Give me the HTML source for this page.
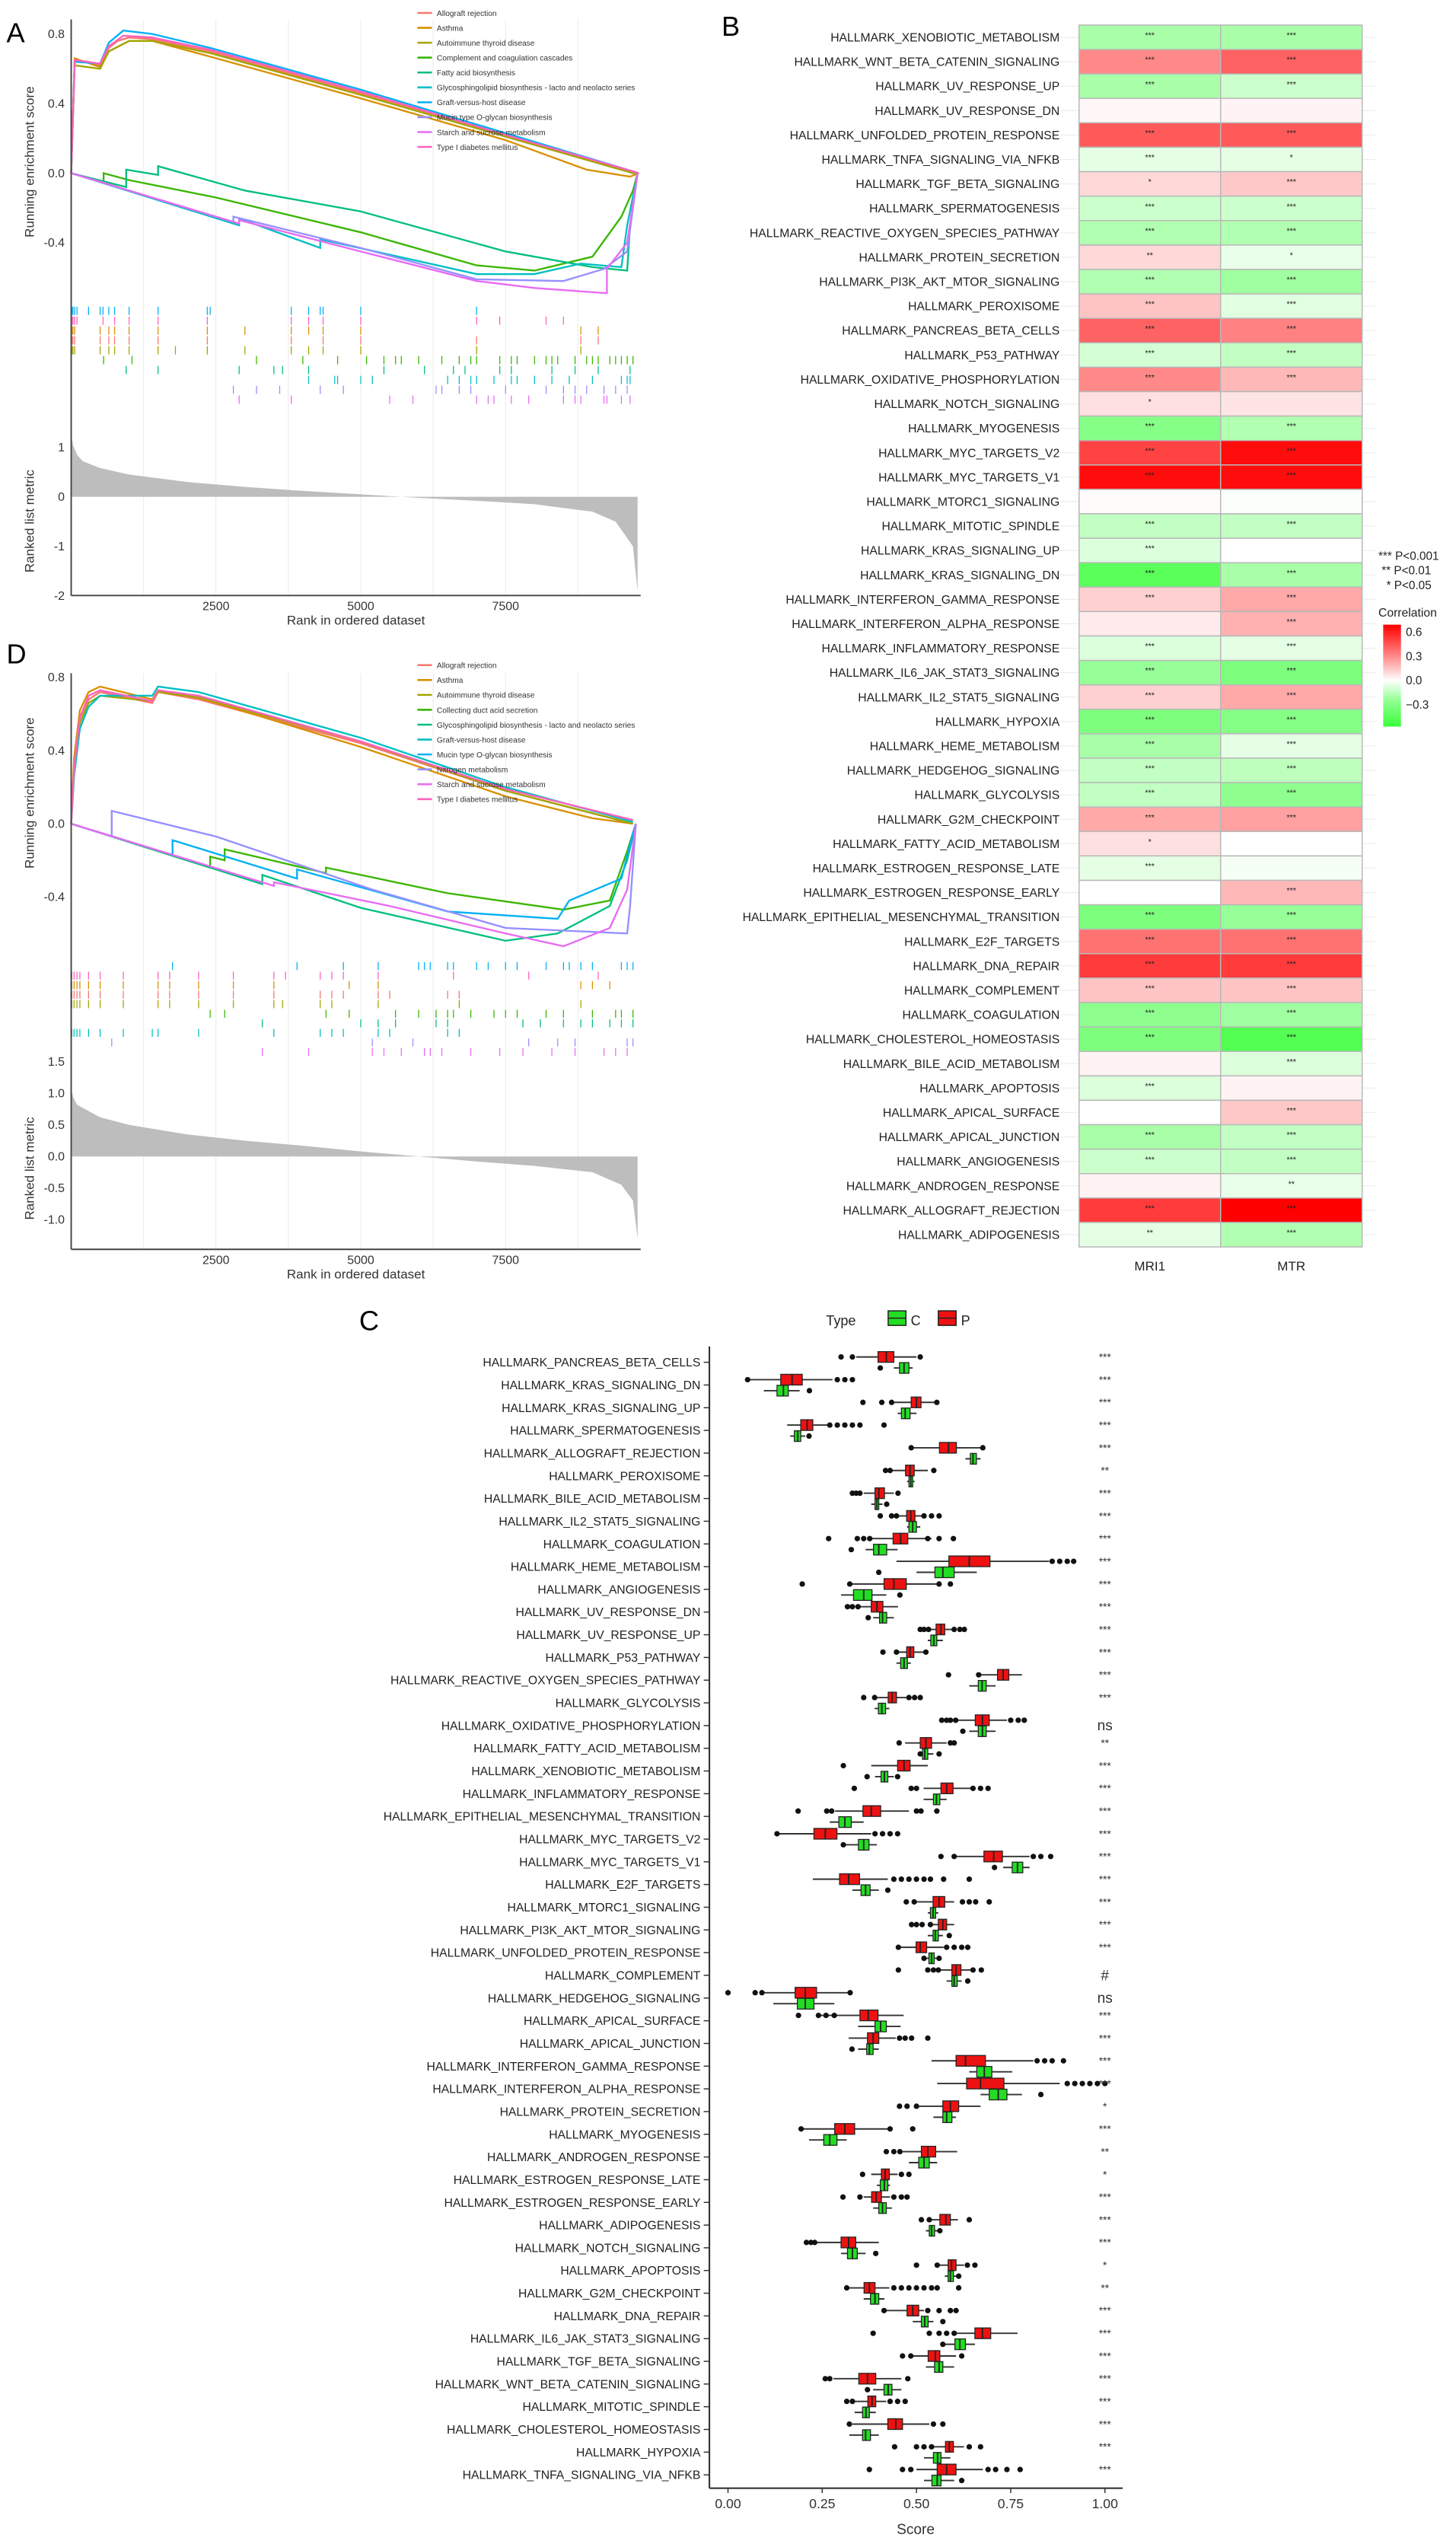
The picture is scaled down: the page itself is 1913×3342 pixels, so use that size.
<!DOCTYPE html>
<html><head><meta charset="utf-8"><style>
html,body{margin:0;padding:0;background:#fff;}
svg{display:block;font-family:"Liberation Sans",Arial,sans-serif;}
</style></head><body>
<svg id="fig" xmlns="http://www.w3.org/2000/svg" width="1913" height="3342" viewBox="0 0 900 1572" preserveAspectRatio="none">
<g id="pA"></g>
<g id="pD"></g>
<g id="pB"></g>
<g id="pC"></g>
</svg>
<script>
// ---------- Panel A / D data ----------
const aNames=["Allograft rejection","Asthma","Autoimmune thyroid disease","Complement and coagulation cascades","Fatty acid biosynthesis","Glycosphingolipid biosynthesis - lacto and neolacto series","Graft-versus-host disease","Mucin type O-glycan biosynthesis","Starch and sucrose metabolism","Type I diabetes mellitus"];
const dNames=["Allograft rejection","Asthma","Autoimmune thyroid disease","Collecting duct acid secretion","Glycosphingolipid biosynthesis - lacto and neolacto series","Graft-versus-host disease","Mucin type O-glycan biosynthesis","Nitrogen metabolism","Starch and sucrose metabolism","Type I diabetes mellitus"];
const hueColors=["#F8766D","#D89000","#A3A500","#39B600","#00BF7D","#00BFC4","#00B0F6","#9590FF","#E76BF3","#FF62BC"];
const aCurves=[
[[0,0],[60,0.65],[300,0.64],[500,0.62],[650,0.72],[800,0.76],[1000,0.78],[1400,0.77],[2400,0.70],[5000,0.46],[7500,0.22],[9700,0.01],[9800,0]],
[[0,0],[60,0.66],[500,0.61],[650,0.70],[1000,0.76],[1400,0.76],[2400,0.67],[5000,0.43],[7500,0.19],[8900,0.02],[9650,-0.02],[9800,0]],
[[0,0],[60,0.62],[500,0.60],[650,0.70],[1000,0.76],[1400,0.76],[2400,0.69],[5000,0.45],[7500,0.21],[9700,0.0],[9800,0]],
[[0,0],[560,-0.05],[560,0.0],[1000,-0.04],[2500,-0.14],[5000,-0.34],[7000,-0.53],[8000,-0.56],[9000,-0.48],[9500,-0.25],[9700,-0.1],[9780,0]],
[[0,0],[950,-0.08],[950,0.02],[1500,-0.01],[1500,0.04],[3000,-0.10],[5000,-0.22],[7500,-0.45],[9000,-0.54],[9600,-0.56],[9650,-0.3],[9780,0]],
[[0,0],[2900,-0.30],[2900,-0.26],[4300,-0.43],[4300,-0.38],[7000,-0.58],[8000,-0.58],[8800,-0.52],[9500,-0.54],[9600,-0.3],[9780,0]],
[[0,0],[60,0.64],[500,0.63],[650,0.75],[900,0.82],[1400,0.80],[2400,0.72],[5000,0.48],[7500,0.23],[9700,0.01],[9800,0]],
[[0,0],[2800,-0.28],[2800,-0.25],[5000,-0.43],[7000,-0.61],[8500,-0.62],[9200,-0.55],[9600,-0.45],[9780,0]],
[[0,0],[2900,-0.29],[2900,-0.27],[5000,-0.45],[7000,-0.62],[8000,-0.66],[9250,-0.69],[9250,-0.55],[9600,-0.4],[9780,0]],
[[0,0],[60,0.65],[500,0.63],[650,0.73],[900,0.79],[1400,0.78],[2400,0.71],[5000,0.47],[7500,0.22],[9700,0.01],[9800,0]]
];
const dCurves=[
[[0,0],[50,0.30],[150,0.55],[300,0.68],[500,0.72],[1400,0.66],[1500,0.72],[2200,0.68],[5000,0.44],[7500,0.18],[9700,0.0]],
[[0,0],[50,0.36],[150,0.62],[300,0.72],[500,0.75],[1400,0.68],[1500,0.73],[2200,0.69],[5000,0.42],[7500,0.15],[9000,0.03],[9700,0.0]],
[[0,0],[50,0.28],[150,0.55],[300,0.66],[500,0.70],[1400,0.67],[1500,0.72],[2200,0.69],[5000,0.45],[7500,0.18],[9700,0.0]],
[[0,0],[2400,-0.24],[2400,-0.18],[2650,-0.2],[2650,-0.14],[4400,-0.27],[4400,-0.24],[6500,-0.38],[8500,-0.47],[9300,-0.42],[9600,-0.15],[9750,0]],
[[0,0],[3300,-0.33],[3300,-0.28],[5000,-0.46],[7500,-0.64],[8400,-0.60],[9300,-0.45],[9600,-0.2],[9750,0]],
[[0,0],[50,0.26],[150,0.52],[300,0.64],[500,0.70],[1400,0.70],[1500,0.75],[2200,0.72],[5000,0.47],[7500,0.20],[9700,0.01]],
[[0,0],[1750,-0.17],[1750,-0.09],[3900,-0.30],[3900,-0.25],[6500,-0.48],[8400,-0.52],[8600,-0.42],[9500,-0.3],[9700,-0.05],[9750,0]],
[[0,0],[700,-0.07],[700,0.07],[2500,-0.07],[5200,-0.36],[7500,-0.57],[9600,-0.6],[9650,-0.45],[9750,0]],
[[0,0],[3500,-0.34],[3500,-0.32],[5500,-0.45],[7500,-0.6],[8500,-0.67],[9300,-0.57],[9600,-0.36],[9750,0]],
[[0,0],[50,0.30],[150,0.58],[300,0.70],[500,0.73],[1400,0.67],[1500,0.73],[2200,0.70],[5000,0.45],[7500,0.19],[9700,0.02]]
];
const aHits=[
[10,30,60,500,650,750,1000,1500,2350,3800,4350,5000,7000,8800,9100],
[10,30,60,500,650,750,1000,1500,2350,3000,3800,4100,4350,5000,8800,9100],
[10,30,60,500,650,750,1000,1500,1800,2350,3000,3800,4100,4350,5000,7000,8800],
[560,1050,3200,4000,4600,5100,5400,5600,5700,6000,6400,6700,6900,7000,7400,7600,7700,8000,8200,8300,8400,8700,8900,9000,9100,9300,9400,9500,9600,9700],
[950,1500,2900,3500,3650,4100,5400,6100,6600,6800,7400,7600,8300,8700,9100,9650],
[4100,4550,4600,5000,5200,6500,6700,6900,7000,7300,7600,7700,8000,8300,8600,9000,9500,9600,9650],
[10,30,60,100,300,500,550,650,750,1000,1500,2350,2400,3800,4100,4300,4350,5000,7000],
[2800,3200,3600,4300,4700,6300,6400,6700,6900,7500,8200,8500,8700,8900,9200,9400,9600],
[2900,3800,5500,5900,7000,7200,7300,7600,7900,8500,8700,8800,9200,9250,9500,9650],
[10,30,60,100,550,750,1000,1500,2350,3800,4100,4350,5000,7000,7400,8200,8500]
];
const dHits=[
[10,50,100,150,300,500,900,1500,1700,2200,2800,3500,4300,4500,4700,5300,5500,6500,6700],
[10,50,100,150,300,500,900,1500,1700,2200,2800,3500,4800,5300,8800,9000,9300],
[10,50,100,150,300,500,900,1500,1700,2200,2800,3500,3650,4300,4500,5300,6700,8800],
[2400,2650,4400,4800,5600,6000,6300,6500,6600,6900,7300,7500,7700,8200,8500,9000,9400,9500,9700],
[3300,5000,5300,5600,6300,6500,7800,8100,8500,8800,9000,9300,9500,9700],
[10,50,100,150,300,500,900,1400,1500,2200,3500,4300,4500,4700,5300,5500,6500,6700],
[1750,3900,4700,5300,6000,6100,6200,6500,6600,7000,7200,7500,7700,8200,8500,8600,8800,9000,9500,9600,9700],
[700,5200,5900,7900,8400,8700,9600,9700],
[3300,4100,5200,5400,5700,6100,6200,6400,6900,7400,7800,8300,8700,9200,9400,9600],
[10,50,100,150,300,500,900,1500,1700,2200,2800,3500,3700,4300,4500,4700,5300,6600,7900,9100]
];
const aMetric=[[0,1.3],[30,1.05],[100,0.85],[200,0.72],[500,0.58],[1000,0.45],[2000,0.3],[3000,0.2],[4000,0.12],[5000,0.05],[6000,-0.02],[7000,-0.08],[8000,-0.15],[9000,-0.3],[9400,-0.5],[9700,-1.0],[9780,-1.9],[9780,0]];
const dMetric=[[0,1.1],[30,0.95],[100,0.82],[500,0.62],[1000,0.5],[2000,0.35],[3000,0.25],[4000,0.17],[5000,0.08],[6000,0.0],[7000,-0.08],[8000,-0.15],[9000,-0.25],[9500,-0.45],[9700,-0.7],[9780,-1.3],[9780,0]];
const rankTicks=[2500,5000,7500];
const aEsTicks=[0.8,0.4,0.0,-0.4];
const dEsTicks=[0.8,0.4,0.0,-0.4];
const aMetricTicks=[1,0,-1,-2];
const dMetricTicks=[1.5,1.0,0.5,0.0,-0.5,-1.0];

// ---------- Panel B data ----------
const bRows=["HALLMARK_XENOBIOTIC_METABOLISM","HALLMARK_WNT_BETA_CATENIN_SIGNALING","HALLMARK_UV_RESPONSE_UP","HALLMARK_UV_RESPONSE_DN","HALLMARK_UNFOLDED_PROTEIN_RESPONSE","HALLMARK_TNFA_SIGNALING_VIA_NFKB","HALLMARK_TGF_BETA_SIGNALING","HALLMARK_SPERMATOGENESIS","HALLMARK_REACTIVE_OXYGEN_SPECIES_PATHWAY","HALLMARK_PROTEIN_SECRETION","HALLMARK_PI3K_AKT_MTOR_SIGNALING","HALLMARK_PEROXISOME","HALLMARK_PANCREAS_BETA_CELLS","HALLMARK_P53_PATHWAY","HALLMARK_OXIDATIVE_PHOSPHORYLATION","HALLMARK_NOTCH_SIGNALING","HALLMARK_MYOGENESIS","HALLMARK_MYC_TARGETS_V2","HALLMARK_MYC_TARGETS_V1","HALLMARK_MTORC1_SIGNALING","HALLMARK_MITOTIC_SPINDLE","HALLMARK_KRAS_SIGNALING_UP","HALLMARK_KRAS_SIGNALING_DN","HALLMARK_INTERFERON_GAMMA_RESPONSE","HALLMARK_INTERFERON_ALPHA_RESPONSE","HALLMARK_INFLAMMATORY_RESPONSE","HALLMARK_IL6_JAK_STAT3_SIGNALING","HALLMARK_IL2_STAT5_SIGNALING","HALLMARK_HYPOXIA","HALLMARK_HEME_METABOLISM","HALLMARK_HEDGEHOG_SIGNALING","HALLMARK_GLYCOLYSIS","HALLMARK_G2M_CHECKPOINT","HALLMARK_FATTY_ACID_METABOLISM","HALLMARK_ESTROGEN_RESPONSE_LATE","HALLMARK_ESTROGEN_RESPONSE_EARLY","HALLMARK_EPITHELIAL_MESENCHYMAL_TRANSITION","HALLMARK_E2F_TARGETS","HALLMARK_DNA_REPAIR","HALLMARK_COMPLEMENT","HALLMARK_COAGULATION","HALLMARK_CHOLESTEROL_HOMEOSTASIS","HALLMARK_BILE_ACID_METABOLISM","HALLMARK_APOPTOSIS","HALLMARK_APICAL_SURFACE","HALLMARK_APICAL_JUNCTION","HALLMARK_ANGIOGENESIS","HALLMARK_ANDROGEN_RESPONSE","HALLMARK_ALLOGRAFT_REJECTION","HALLMARK_ADIPOGENESIS"];
const bCols=["MRI1","MTR"];
const mri1Corr=[-0.2,0.3,-0.2,0.02,0.42,-0.06,0.1,-0.12,-0.18,0.1,-0.18,0.15,0.4,-0.1,0.3,0.08,-0.28,0.48,0.62,0.01,-0.14,-0.08,-0.38,0.12,0.05,-0.08,-0.24,0.12,-0.3,-0.2,-0.14,-0.14,0.22,0.08,-0.06,0.0,-0.3,0.36,0.5,0.15,-0.26,-0.3,0.03,-0.08,0.0,-0.2,-0.12,0.03,0.5,-0.06];
const mtrCorr=[-0.2,0.4,-0.12,0.03,0.42,-0.06,0.14,-0.12,-0.18,-0.05,-0.22,-0.07,0.32,-0.14,0.18,0.07,-0.18,0.62,0.62,-0.01,-0.14,0.0,-0.2,0.22,0.2,-0.06,-0.3,0.22,-0.28,-0.06,-0.15,-0.26,0.24,0.0,-0.02,0.18,-0.24,0.36,0.5,0.15,-0.22,-0.4,-0.08,0.03,0.14,-0.14,-0.14,-0.05,0.65,-0.18];
const mri1Stars=["***","***","***","","***","***","*","***","***","**","***","***","***","***","***","*","***","***","***","","***","***","***","***","","***","***","***","***","***","***","***","***","*","***","","***","***","***","***","***","***","","***","","***","***","","***","**"];
const mtrStars=["***","***","***","","***","*","***","***","***","*","***","***","***","***","***","","***","***","***","","***","","***","***","***","***","***","***","***","***","***","***","***","","","***","***","***","***","***","***","***","***","","***","***","***","**","***","***"];
const corrTicks=[0.6,0.3,0.0,-0.3];

// ---------- Panel C data ----------
const cRows=["HALLMARK_PANCREAS_BETA_CELLS","HALLMARK_KRAS_SIGNALING_DN","HALLMARK_KRAS_SIGNALING_UP","HALLMARK_SPERMATOGENESIS","HALLMARK_ALLOGRAFT_REJECTION","HALLMARK_PEROXISOME","HALLMARK_BILE_ACID_METABOLISM","HALLMARK_IL2_STAT5_SIGNALING","HALLMARK_COAGULATION","HALLMARK_HEME_METABOLISM","HALLMARK_ANGIOGENESIS","HALLMARK_UV_RESPONSE_DN","HALLMARK_UV_RESPONSE_UP","HALLMARK_P53_PATHWAY","HALLMARK_REACTIVE_OXYGEN_SPECIES_PATHWAY","HALLMARK_GLYCOLYSIS","HALLMARK_OXIDATIVE_PHOSPHORYLATION","HALLMARK_FATTY_ACID_METABOLISM","HALLMARK_XENOBIOTIC_METABOLISM","HALLMARK_INFLAMMATORY_RESPONSE","HALLMARK_EPITHELIAL_MESENCHYMAL_TRANSITION","HALLMARK_MYC_TARGETS_V2","HALLMARK_MYC_TARGETS_V1","HALLMARK_E2F_TARGETS","HALLMARK_MTORC1_SIGNALING","HALLMARK_PI3K_AKT_MTOR_SIGNALING","HALLMARK_UNFOLDED_PROTEIN_RESPONSE","HALLMARK_COMPLEMENT","HALLMARK_HEDGEHOG_SIGNALING","HALLMARK_APICAL_SURFACE","HALLMARK_APICAL_JUNCTION","HALLMARK_INTERFERON_GAMMA_RESPONSE","HALLMARK_INTERFERON_ALPHA_RESPONSE","HALLMARK_PROTEIN_SECRETION","HALLMARK_MYOGENESIS","HALLMARK_ANDROGEN_RESPONSE","HALLMARK_ESTROGEN_RESPONSE_LATE","HALLMARK_ESTROGEN_RESPONSE_EARLY","HALLMARK_ADIPOGENESIS","HALLMARK_NOTCH_SIGNALING","HALLMARK_APOPTOSIS","HALLMARK_G2M_CHECKPOINT","HALLMARK_DNA_REPAIR","HALLMARK_IL6_JAK_STAT3_SIGNALING","HALLMARK_TGF_BETA_SIGNALING","HALLMARK_WNT_BETA_CATENIN_SIGNALING","HALLMARK_MITOTIC_SPINDLE","HALLMARK_CHOLESTEROL_HOMEOSTASIS","HALLMARK_HYPOXIA","HALLMARK_TNFA_SIGNALING_VIA_NFKB"];
const cSig=["***","***","***","***","***","**","***","***","***","***","***","***","***","***","***","***","ns","**","***","***","***","***","***","***","***","***","***","#","ns","***","***","***","***","*","***","**","*","***","***","***","*","**","***","***","***","***","***","***","***","***"];
// [whiskerLow, q1, median, q3, whiskerHigh]
const pBox=[[0.34,0.398,0.42,0.44,0.50],[0.052,0.14,0.17,0.197,0.277],[0.434,0.486,0.50,0.512,0.554],[0.157,0.193,0.21,0.225,0.264],[0.486,0.561,0.585,0.606,0.676],[0.434,0.471,0.483,0.494,0.53],[0.36,0.39,0.40,0.415,0.44],[0.434,0.474,0.485,0.496,0.52],[0.37,0.438,0.458,0.477,0.54],[0.447,0.586,0.64,0.695,0.852],[0.323,0.414,0.44,0.473,0.558],[0.35,0.38,0.395,0.411,0.451],[0.532,0.552,0.565,0.575,0.601],[0.447,0.474,0.483,0.493,0.519],[0.665,0.715,0.73,0.745,0.78],[0.389,0.425,0.435,0.447,0.473],[0.604,0.656,0.675,0.693,0.74],[0.47,0.51,0.525,0.54,0.58],[0.38,0.45,0.467,0.483,0.53],[0.519,0.565,0.58,0.597,0.643],[0.284,0.358,0.38,0.405,0.48],[0.13,0.228,0.258,0.289,0.38],[0.6,0.679,0.705,0.728,0.8],[0.225,0.296,0.32,0.349,0.424],[0.494,0.544,0.56,0.575,0.6],[0.537,0.558,0.57,0.58,0.6],[0.452,0.499,0.51,0.527,0.572],[0.558,0.594,0.605,0.618,0.643],[0.09,0.178,0.205,0.235,0.324],[0.24,0.35,0.372,0.398,0.466],[0.32,0.37,0.385,0.4,0.445],[0.54,0.605,0.63,0.683,0.81],[0.555,0.633,0.67,0.732,0.88],[0.5,0.57,0.59,0.612,0.67],[0.2,0.283,0.31,0.336,0.428],[0.463,0.513,0.53,0.551,0.608],[0.38,0.407,0.417,0.428,0.45],[0.36,0.381,0.393,0.407,0.43],[0.54,0.562,0.578,0.59,0.61],[0.237,0.3,0.32,0.339,0.4],[0.555,0.584,0.593,0.605,0.626],[0.315,0.361,0.375,0.39,0.428],[0.42,0.475,0.49,0.506,0.52],[0.6,0.655,0.675,0.697,0.768],[0.485,0.531,0.55,0.562,0.605],[0.28,0.347,0.37,0.392,0.46],[0.336,0.371,0.382,0.392,0.42],[0.33,0.424,0.445,0.463,0.534],[0.54,0.577,0.587,0.598,0.626],[0.5,0.555,0.58,0.605,0.676]];
const cBox=[[0.44,0.455,0.467,0.48,0.49],[0.095,0.13,0.147,0.16,0.19],[0.45,0.46,0.47,0.483,0.50],[0.165,0.176,0.185,0.193,0.205],[0.63,0.643,0.65,0.659,0.67],[0.475,0.48,0.485,0.49,0.495],[0.38,0.39,0.395,0.40,0.41],[0.475,0.48,0.49,0.5,0.51],[0.365,0.386,0.40,0.421,0.45],[0.5,0.549,0.57,0.6,0.66],[0.3,0.333,0.36,0.382,0.42],[0.385,0.402,0.41,0.421,0.44],[0.53,0.538,0.546,0.554,0.57],[0.447,0.458,0.467,0.476,0.485],[0.64,0.664,0.674,0.685,0.71],[0.389,0.399,0.408,0.418,0.428],[0.64,0.664,0.675,0.685,0.71],[0.505,0.516,0.522,0.53,0.545],[0.39,0.406,0.415,0.424,0.44],[0.519,0.545,0.553,0.562,0.58],[0.27,0.294,0.31,0.327,0.36],[0.31,0.346,0.36,0.374,0.395],[0.73,0.754,0.768,0.782,0.8],[0.33,0.353,0.365,0.377,0.4],[0.53,0.537,0.544,0.551,0.558],[0.53,0.544,0.55,0.558,0.57],[0.52,0.533,0.54,0.547,0.56],[0.58,0.594,0.6,0.608,0.62],[0.12,0.184,0.205,0.228,0.282],[0.345,0.39,0.405,0.42,0.458],[0.345,0.368,0.375,0.385,0.4],[0.64,0.66,0.68,0.70,0.754],[0.67,0.693,0.717,0.74,0.78],[0.545,0.57,0.58,0.594,0.605],[0.215,0.254,0.27,0.289,0.315],[0.48,0.506,0.52,0.534,0.555],[0.395,0.404,0.415,0.424,0.43],[0.385,0.4,0.41,0.42,0.435],[0.525,0.534,0.54,0.548,0.56],[0.3,0.317,0.33,0.343,0.365],[0.575,0.584,0.59,0.598,0.605],[0.36,0.378,0.39,0.4,0.415],[0.49,0.513,0.522,0.531,0.545],[0.575,0.602,0.615,0.63,0.655],[0.525,0.548,0.56,0.57,0.6],[0.385,0.414,0.425,0.435,0.46],[0.336,0.357,0.366,0.375,0.392],[0.322,0.357,0.365,0.378,0.4],[0.52,0.545,0.556,0.565,0.59],[0.52,0.541,0.555,0.565,0.6]];
const pOut=[[0.30,0.33,0.51],[0.052,0.29,0.31,0.33],[0.358,0.408,0.434,0.554],[0.27,0.29,0.31,0.33,0.35,0.414],[0.486,0.676],[0.418,0.43,0.546],[0.33,0.34,0.35,0.451],[0.404,0.434,0.447,0.52,0.54,0.56],[0.267,0.343,0.36,0.376,0.53,0.56,0.598],[0.86,0.88,0.9,0.917],[0.197,0.323,0.56,0.59],[0.317,0.33,0.345],[0.51,0.52,0.532,0.60,0.615,0.627],[0.411,0.447,0.525],[0.585,0.665],[0.36,0.389,0.48,0.495,0.51],[0.567,0.58,0.59,0.604,0.75,0.77,0.786],[0.454,0.59,0.6],[0.306],[0.335,0.486,0.5,0.65,0.67,0.69],[0.186,0.262,0.275,0.5,0.512,0.554],[0.13,0.39,0.41,0.43,0.45],[0.565,0.6,0.81,0.83,0.856],[0.44,0.46,0.48,0.5,0.52,0.537,0.572,0.64],[0.473,0.494,0.622,0.64,0.657,0.693],[0.487,0.5,0.515,0.537],[0.452,0.58,0.6,0.62,0.636],[0.452,0.53,0.545,0.558,0.65,0.672],[0.0,0.072,0.09,0.324],[0.187,0.24,0.26,0.282],[0.455,0.47,0.487,0.53],[0.82,0.84,0.86,0.89],[0.9,0.92,0.94,0.96,0.98,1.0],[0.455,0.475,0.5],[0.194,0.43,0.49],[0.42,0.44,0.456],[0.357,0.46,0.48],[0.305,0.35,0.44,0.46,0.475],[0.513,0.534,0.64],[0.208,0.22,0.23],[0.5,0.555,0.635,0.655],[0.315,0.44,0.46,0.48,0.5,0.52,0.54,0.555,0.612],[0.414,0.53,0.56,0.59,0.605],[0.385,0.534,0.56,0.58,0.6],[0.463,0.485,0.62],[0.258,0.27,0.477],[0.315,0.33,0.43,0.45,0.47],[0.322,0.545,0.57],[0.442,0.5,0.52,0.54,0.64,0.67],[0.375,0.463,0.485,0.69,0.71,0.74,0.775]];
const cOut=[[0.404],[0.216],[],[0.215],[],[],[0.421],[],[0.327],[0.4],[0.456],[0.372],[],[],[],[],[0.623],[0.51,0.56],[0.369,0.45],[],[],[0.306],[0.707],[0.424],[],[0.587],[0.52,0.56],[0.636],[],[],[0.329],[],[0.83],[],[],[],[],[],[0.562],[0.392],[0.612],[],[0.57],[0.57],[],[0.37],[],[],[],[0.62]];
const scoreTicks=[0,0.25,0.5,0.75,1.0];
const scoreTickLabels=["0.00","0.25","0.50","0.75","1.00"];

// ---------- helpers ----------
const NS="http://www.w3.org/2000/svg";
function mk(tag,attrs,parent,text){const e=document.createElementNS(NS,tag);for(const k in attrs)e.setAttribute(k,attrs[k]);if(text!==undefined)e.textContent=text;parent.appendChild(e);return e;}

// ---------- GSEA panels ----------
function gsea(g,opt){
  const sx=r=>44+r*0.0358;
  const esY=v=>opt.es0-v*opt.esK;
  const mY=v=>opt.m0-v*opt.mK;
  let t=mk('text',{x:4,y:opt.labY,'font-size':17},g,opt.label);
  
  
  // grid
  for(let r=1250;r<9800;r+=1250){
    const l=mk('line',{x1:sx(r),x2:sx(r),y1:opt.top,y2:opt.bot,stroke:'#ececec','stroke-width':0.5},g);
    
    
  }
  // metric area
  let d='M'+sx(0)+','+mY(0);
  opt.metric.forEach(p=>{d+=' L'+sx(p[0]).toFixed(2)+','+mY(p[1]).toFixed(2);});
  d+='Z';
  const ar=mk('path',{d:d,fill:'#bdbdbd',stroke:'none'},g);
  
  
  // curves
  opt.curves.forEach((c,i)=>{
    const pl=mk('polyline',{points:c.map(p=>sx(p[0]).toFixed(2)+','+esY(p[1]).toFixed(2)).join(' '),fill:'none',stroke:hueColors[i],'stroke-width':1.1},g);
    
    
  });
  // rug
  const rugOrder=[6,9,1,0,2,3,4,5,7,8];
  const rh=(opt.rugBot-opt.rugTop)/10;
  rugOrder.forEach((si,row)=>{
    opt.hits[si].forEach(h=>{
      const l=mk('line',{x1:sx(h),x2:sx(h),y1:opt.rugTop+row*rh+0.5,y2:opt.rugTop+(row+1)*rh-0.5,stroke:hueColors[si],'stroke-width':0.6},g);
      
      
    });
  });
  // axes
  const ax=mk('line',{x1:44,x2:44,y1:opt.top,y2:opt.bot,stroke:'#444','stroke-width':0.9},g);
  
  
  const bx=mk('line',{x1:44,x2:396,y1:opt.bot,y2:opt.bot,stroke:'#444','stroke-width':0.9},g);
  
  
  opt.esTicks.forEach(v=>{
    const tt=mk('text',{x:40,y:esY(v)+2.5,'font-size':7.5,'text-anchor':'end',fill:'#333'},g,v.toFixed(1));
    
    
  });
  opt.mTicks.forEach(v=>{
    const tt=mk('text',{x:40,y:mY(v)+2.5,'font-size':7.5,'text-anchor':'end',fill:'#333'},g,opt.mFmt(v));
    
    
  });
  rankTicks.forEach(r=>{
    const tt=mk('text',{x:sx(r),y:opt.bot+9,'font-size':7.5,'text-anchor':'middle',fill:'#333'},g,String(r));
    
    
  });
  let xt=mk('text',{x:220,y:opt.bot+18,'font-size':8,'text-anchor':'middle',fill:'#333'},g,'Rank in ordered dataset');
  
  
  let y1=mk('text',{x:0,y:0,'font-size':8,'text-anchor':'middle',fill:'#333',transform:'translate(21,'+opt.esTitleY+') rotate(-90)'},g,'Running enrichment score');
  
  
  let y2=mk('text',{x:0,y:0,'font-size':8,'text-anchor':'middle',fill:'#333',transform:'translate(21,'+opt.mTitleY+') rotate(-90)'},g,'Ranked list metric');
  
  
  // legend
  opt.names.forEach((n,i)=>{
    const yy=opt.legY+i*9.2;
    const ll=mk('line',{x1:258,x2:267,y1:yy,y2:yy,stroke:hueColors[i],'stroke-width':1.2},g);
    
    
    const lt=mk('text',{x:270,y:yy+1.8,'font-size':4.8,fill:'#333'},g,n);
    
    
  });
}
gsea(document.getElementById('pA'),{label:'A',labY:26,top:12,bot:368,es0:107,esK:107.5,m0:307,mK:30.6,rugTop:189,rugBot:250,curves:aCurves,hits:aHits,metric:aMetric,esTicks:aEsTicks,mTicks:aMetricTicks,mFmt:v=>String(v),esTitleY:100,mTitleY:322,names:aNames,legY:8});
gsea(document.getElementById('pD'),{label:'D',labY:410,top:416,bot:772,es0:509,esK:113,m0:714.6,mK:39,rugTop:594,rugBot:653,curves:dCurves,hits:dHits,metric:dMetric,esTicks:dEsTicks,mTicks:dMetricTicks,mFmt:v=>v.toFixed(1),esTitleY:490,mTitleY:722,names:dNames,legY:411});

// ---------- Panel B ----------
(function(){
  const g=document.getElementById('pB');
  function col(v){
    if(v>=0){const f=Math.min(v/0.65,1);return 'rgb(255,'+Math.round(255*(1-f))+','+Math.round(255*(1-f))+')';}
    const f=Math.min(-v/0.45,1);return 'rgb('+Math.round(255-(255-60)*f)+',255,'+Math.round(255-(255-60)*f)+')';
  }
  let t=mk('text',{x:446,y:22,'font-size':17},g,'B');
  
  
  const x0=667,cw=87.5,rh=15.1,y0=15.5;
  const vals=[mri1Corr,mtrCorr],stars=[mri1Stars,mtrStars];
  bRows.forEach((n,i)=>{
    const cy=y0+i*rh+rh/2;
    const gl=mk('line',{x1:655,x2:850,y1:cy,y2:cy,stroke:'#eeeeee','stroke-width':0.6},g);
    
    
    const lt=mk('text',{x:655,y:cy+2.6,'font-size':7.4,'text-anchor':'end',fill:'#222'},g,n);
    
    
    for(let j=0;j<2;j++){
      const r=mk('rect',{x:x0+j*cw,y:y0+i*rh,width:cw,height:rh,fill:col(vals[j][i]),stroke:'#b8b8b8','stroke-width':0.7},g);
      
      
      if(stars[j][i]){
        const s=mk('text',{x:x0+j*cw+cw/2,y:cy+0.5,'font-size':5,'text-anchor':'middle',fill:'#222'},g,stars[j][i]);
        
        
      }
    }
  });
  bCols.forEach((c,j)=>{
    const ct=mk('text',{x:x0+j*cw+cw/2,y:785,'font-size':8,'text-anchor':'middle',fill:'#222'},g,c);
    
    
  });
  ["*** P<0.001","** P<0.01","* P<0.05"].forEach((s,i)=>{
    const st=mk('text',{x:i==0?852:(i==1?854:857),y:346+i*9,'font-size':7.2,fill:'#222'},g,s);
    
    
  });
  const lt=mk('text',{x:852,y:381,'font-size':7.4,fill:'#222'},g,'Correlation');
  
  
  const defs=mk('defs',{},g);
  const lg=mk('linearGradient',{id:'cg',x1:0,y1:0,x2:0,y2:1},defs);
  const cY=v=>420.4-v*49.8;
  const top=386,bot=449;
  [0.69,0.3,0,-0.25,-0.574].forEach(v=>{mk('stop',{offset:((cY(v)-top)/(bot-top)).toFixed(3),'stop-color':col(v)},lg);});
  const cb=mk('rect',{x:855,y:top,width:11,height:bot-top,fill:'url(#cg)'},g);
  
  
  corrTicks.forEach(v=>{
    const tt=mk('text',{x:869,y:cY(v)+2.5,'font-size':7.2,fill:'#222'},g,(v<0?'\u2212':'')+Math.abs(v).toFixed(1));
    
    
  });
})();

// ---------- Panel C ----------
(function(){
  const g=document.getElementById('pC');
  const sx=v=>450+v*233;
  const rowY=i=>841.8+i*14.03;
  let t=mk('text',{x:222,y:822,'font-size':17},g,'C');
  
  
  // legend
  const lt=mk('text',{x:529,y:819,'font-size':8.5,'text-anchor':'end',fill:'#222'},g,'Type');
  
  
  [['C','#22dd22',549,'legend-entry-c'],['P','#ee1111',580,'legend-entry-p']].forEach(e=>{
    const r=mk('rect',{x:e[2],y:810,width:11,height:9,fill:e[1],stroke:'#222','stroke-width':0.7},g);
    
    
    mk('line',{x1:e[2],x2:e[2]+11,y1:814.5,y2:814.5,stroke:'#222','stroke-width':0.7},g);
    const tx=mk('text',{x:e[2]+14,y:819,'font-size':8.5,fill:'#222'},g,e[0]);
    
    
  });
  function box(b,outs,yc,fill){
    const w=mk('line',{x1:sx(b[0]),x2:sx(b[4]),y1:yc,y2:yc,stroke:'#333','stroke-width':0.9},g);
    
    
    const r=mk('rect',{x:sx(b[1]),y:yc-3.3,width:Math.max(sx(b[3])-sx(b[1]),1),height:6.6,fill:fill,stroke:'#222','stroke-width':0.6},g);
    
    
    const m=mk('line',{x1:sx(b[2]),x2:sx(b[2]),y1:yc-3.3,y2:yc+3.3,stroke:'#222','stroke-width':0.9},g);
    
    
    outs.forEach(o=>{
      const c=mk('circle',{cx:sx(o),cy:yc,r:1.7,fill:'#111'},g);
      
      
    });
  }
  cRows.forEach((n,i)=>{
    const y=rowY(i);
    const lb=mk('text',{x:433,y:y+2.6,'font-size':7.4,'text-anchor':'end',fill:'#222'},g,n);
    
    
    mk('line',{x1:435,x2:438.5,y1:y,y2:y,stroke:'#333','stroke-width':0.7},g);
    box(pBox[i],pOut[i],y-3.3,'#ee1111');
    box(cBox[i],cOut[i],y+3.5,'#22dd22');
    const s=cSig[i];
    const st=mk('text',{x:683,y:(s=='ns'||s=='#')?y+3:y-1,'font-size':(s=='ns'||s=='#')?9:6.5,'text-anchor':'middle',fill:'#333'},g,s);
    
    
  });
  const ya=mk('line',{x1:438.5,x2:438.5,y1:832,y2:1537.5,stroke:'#333','stroke-width':1},g);
  
  
  const xa=mk('line',{x1:438.5,x2:694,y1:1537.5,y2:1537.5,stroke:'#333','stroke-width':1},g);
  
  
  scoreTicks.forEach((v,i)=>{
    mk('line',{x1:sx(v),x2:sx(v),y1:1537.5,y2:1540.5,stroke:'#333','stroke-width':0.7},g);
    const tt=mk('text',{x:sx(v),y:1550,'font-size':8.3,'text-anchor':'middle',fill:'#333'},g,scoreTickLabels[i]);
    
    
  });
  const xt=mk('text',{x:566,y:1566,'font-size':9,'text-anchor':'middle',fill:'#333'},g,'Score');
  
  
})();
</script>
</body></html>
